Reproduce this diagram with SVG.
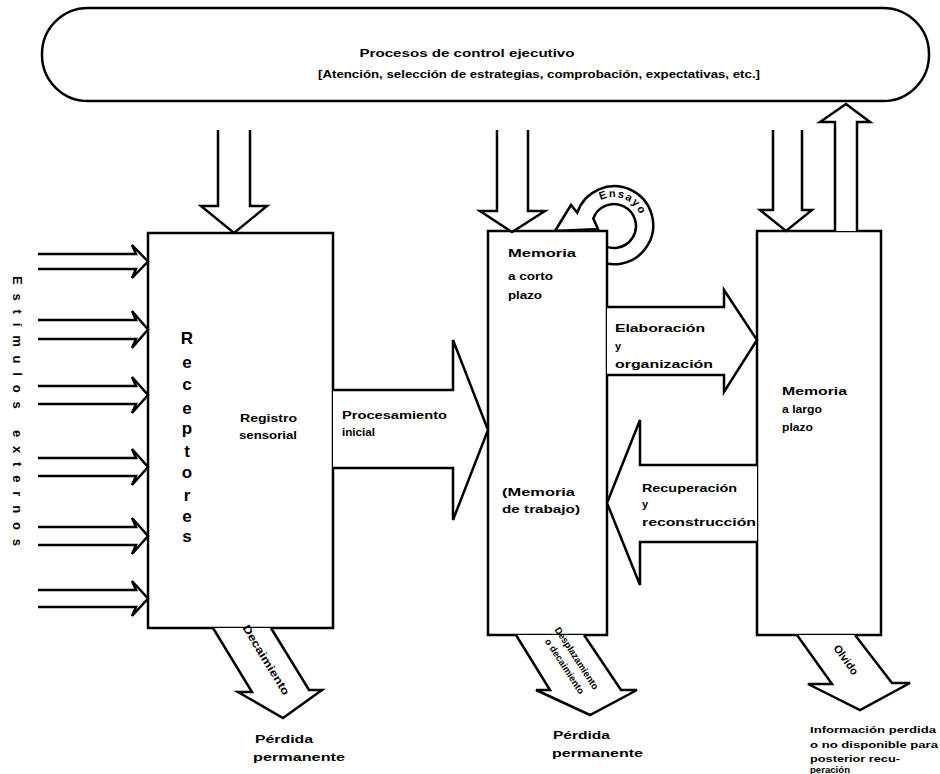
<svg xmlns="http://www.w3.org/2000/svg" width="940" height="774" viewBox="0 0 940 774">
<style>
.ln{fill:none;stroke:#000;stroke-width:2.5;stroke-linejoin:miter}
.sh{fill:#fff;stroke:#000;stroke-width:2.5;stroke-linejoin:miter}
.t{font-family:"Liberation Sans",Arial,sans-serif;font-weight:bold;font-size:11px;fill:#000}
.ts{font-family:"Liberation Sans",Arial,sans-serif;font-weight:bold;font-size:9.5px;fill:#000}
.big{font-family:"Liberation Sans",Arial,sans-serif;font-weight:bold;font-size:17px;fill:#000;text-anchor:middle}
</style>
<rect width="940" height="774" fill="#fff"/>

<g id="control">
<rect class="sh" x="42" y="8" width="887" height="93" rx="46" ry="46"/>
<text class="t" x="467" y="57" text-anchor="middle" textLength="215" lengthAdjust="spacingAndGlyphs">Procesos de control ejecutivo</text>
<text class="t" x="539" y="78" text-anchor="middle" textLength="442" lengthAdjust="spacingAndGlyphs">[Atención, selección de estrategias, comprobación, expectativas, etc.]</text>
</g>

<g id="estimulos">
<text class="t" style="font-size:13px" transform="translate(13,411) rotate(90)" text-anchor="middle" textLength="270" lengthAdjust="spacing">Estímulos externos</text>
</g>

<g id="ensayo">
<path class="sh" d="M590.2,256 A39,39 0 1 0 577.3,212.7 L571,205 L555,231 L598,229 L593.3,218.5 A22,22 0 1 1 599.9,242.9 Z"/>
<path id="ensArc" d="M596,203.5 A28,28 0 0 1 641.6,221.1" fill="none"/>
<text class="t" letter-spacing="1.5"><textPath href="#ensArc" startOffset="50%" text-anchor="middle">Ensayo</textPath></text>
</g>

<g id="receptores">
<rect class="sh" x="148" y="233" width="185" height="395"/>
<text class="big" x="187" y="344">R</text>
<text class="big" x="187" y="368">e</text>
<text class="big" x="187" y="390">c</text>
<text class="big" x="187" y="414">e</text>
<text class="big" x="187" y="434">p</text>
<text class="big" x="187" y="457">t</text>
<text class="big" x="187" y="478">o</text>
<text class="big" x="187" y="501">r</text>
<text class="big" x="187" y="522">e</text>
<text class="big" x="187" y="542">s</text>
<text class="t" x="240" y="422" textLength="57" lengthAdjust="spacingAndGlyphs">Registro</text>
<text class="t" x="239" y="439" textLength="58" lengthAdjust="spacingAndGlyphs">sensorial</text>
</g>

<g id="corto">
<rect class="sh" x="488" y="231" width="119" height="404"/>
<text class="t" x="508" y="257" textLength="68" lengthAdjust="spacingAndGlyphs">Memoria</text>
<text class="t" x="508" y="280" textLength="45" lengthAdjust="spacingAndGlyphs">a corto</text>
<text class="t" x="508" y="299" textLength="34" lengthAdjust="spacingAndGlyphs">plazo</text>
<text class="t" x="502" y="496" textLength="73" lengthAdjust="spacingAndGlyphs">(Memoria</text>
<text class="t" x="502" y="513" textLength="78" lengthAdjust="spacingAndGlyphs">de trabajo)</text>
</g>

<g id="largo">
<rect class="sh" x="757" y="231" width="124" height="404"/>
<text class="t" x="782" y="395" textLength="65" lengthAdjust="spacingAndGlyphs">Memoria</text>
<text class="t" x="782" y="413" textLength="40" lengthAdjust="spacingAndGlyphs">a largo</text>
<text class="t" x="782" y="431" textLength="31" lengthAdjust="spacingAndGlyphs">plazo</text>
</g>

<g id="connectors">
<path class="ln" d="M38,254 H136 L132,245 L148,261.5 L132,278 L136,269 H38"/>
<path class="ln" d="M38,320 H136 L132,311 L148,329.5 L132,348 L136,339 H38"/>
<path class="ln" d="M38,386 H136 L132,377 L148,395 L132,413 L136,404 H38"/>
<path class="ln" d="M38,458 H136 L132,449 L148,467 L132,485 L136,476 H38"/>
<path class="ln" d="M38,527 H136 L132,518 L148,536 L132,554 L136,545 H38"/>
<path class="ln" d="M38,590 H136 L132,581 L148,598.5 L132,616 L136,607 H38"/>

<path class="sh" d="M218,130 V206 H201 L234,233 L267,206 H250 V130"/>
<path class="sh" d="M497,130 V211 H480 L512,232 L545,211 H528 V130"/>
<path class="sh" d="M773,130 V210 H760 L786,231 L812,210 H802 V130"/>
<path class="sh" d="M835,231 V122 H820 L846,104 L870,122 H857 V231"/>

<path class="sh" d="M333,390 H453 V340 L488,430 L453,520 V468 H333"/>
<text class="t" x="342" y="419" textLength="105" lengthAdjust="spacingAndGlyphs">Procesamiento</text>
<text class="t" x="342" y="436" textLength="33" lengthAdjust="spacingAndGlyphs">inicial</text>

<path class="sh" d="M607,307 H724 V290 L757,340 L724,392 V375 H607"/>
<text class="t" x="615" y="332" textLength="90" lengthAdjust="spacingAndGlyphs">Elaboración</text>
<text class="t" x="615" y="350">y</text>
<text class="t" x="615" y="368" textLength="98" lengthAdjust="spacingAndGlyphs">organización</text>

<path class="sh" d="M757,465 H640 V420 L607,503 L640,585 V542 H757"/>
<text class="t" x="642" y="492" textLength="95" lengthAdjust="spacingAndGlyphs">Recuperación</text>
<text class="t" x="642" y="508">y</text>
<text class="t" x="642" y="526" textLength="114" lengthAdjust="spacingAndGlyphs">reconstrucción</text>

<path class="sh" d="M213,628 L252,692 L238,692 L283,718 L322,690 L309,690 L271,628"/>
<text class="t" transform="translate(263,662) rotate(58.6)" text-anchor="middle" textLength="80" lengthAdjust="spacingAndGlyphs">Decaimiento</text>

<path class="sh" d="M516,635 L550,690 L536,690 L590,715 L637,690 L621,690 L584,635"/>
<text class="ts" transform="translate(574,660) rotate(57)" text-anchor="middle">Desplazamiento</text>
<text class="ts" transform="translate(562,668) rotate(57)" text-anchor="middle">o decaimiento</text>

<path class="sh" d="M797,635 L832,684 L808,684 L860,710 L910,683 L892,683 L855,635"/>
<text class="t" transform="translate(843,662) rotate(54)" text-anchor="middle">Olvido</text>
</g>

<g id="salidas">
<text class="t" x="255" y="743" textLength="58" lengthAdjust="spacingAndGlyphs">Pérdida</text>
<text class="t" x="253" y="761" textLength="92" lengthAdjust="spacingAndGlyphs">permanente</text>
<text class="t" x="553" y="739" textLength="57" lengthAdjust="spacingAndGlyphs">Pérdida</text>
<text class="t" x="552" y="757" textLength="91" lengthAdjust="spacingAndGlyphs">permanente</text>
<text class="ts" x="810" y="733" textLength="126" lengthAdjust="spacingAndGlyphs">Información perdida</text>
<text class="ts" x="810" y="748" textLength="128" lengthAdjust="spacingAndGlyphs">o no disponible para</text>
<text class="ts" x="810" y="762" textLength="90" lengthAdjust="spacingAndGlyphs">posterior recu-</text>
<text class="ts" x="810" y="773" textLength="40" lengthAdjust="spacingAndGlyphs">peración</text>
</g>
</svg>
